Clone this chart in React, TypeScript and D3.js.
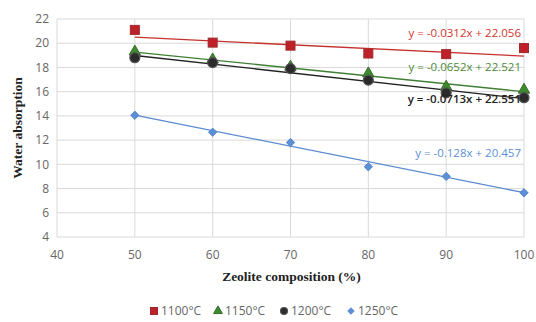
import React from "react";
import * as d3 from "d3";

const compositions = [50, 60, 70, 80, 90, 100];
const series1100 = [21.1, 20.05, 19.8, 19.15, 19.1, 19.6];
const series1150 = [19.3, 18.65, 18.05, 17.5, 16.4, 16.15];
const series1200 = [18.8, 18.4, 17.9, 16.95, 15.9, 15.5];
const series1250 = [14.05, 12.65, 11.8, 9.8, 9.0, 7.65];

const seriesNames = ["1100°C", "1150°C", "1200°C", "1250°C"];
const slopes = [-0.0312, -0.0652, -0.0713, -0.128];
const intercepts = [22.056, 22.521, 22.551, 20.457];
const equationLabels = [
  "y = -0.0312x + 22.056",
  "y = -0.0652x + 22.521",
  "y = -0.0713x + 22.551",
  "y = -0.128x + 20.457",
];

const xTicks = [40, 50, 60, 70, 80, 90, 100];
const yTicks = [4, 6, 8, 10, 12, 14, 16, 18, 20, 22];

const W = 536;
const H = 322;
const margin = { left: 57, right: 12, top: 19, bottom: 85 };

const fills = ["#c0202a", "#3c8a2e", "#2b2b2b", "#5b8fd6"];
const strokes = ["#9e2a2a", "#3a6e2c", "#555555", "#4a7cc4"];
const lineColors = ["#c4312d", "#3f7e33", "#222222", "#5a8bd2"];
const labelColors = ["#d0342c", "#4a8a38", "#222222", "#5b8fd6"];
const labelY = [37, 71, 103, 157];

function Marker({ kind, x, y, s }: { kind: number; x: number; y: number; s: number }) {
  const f = fills[kind];
  const st = strokes[kind];
  if (kind === 0) {
    return <rect x={x - s / 2} y={y - s / 2} width={s} height={s} fill={f} stroke={st} strokeWidth={1} />;
  }
  if (kind === 1) {
    const p = d3.symbol(d3.symbolTriangle, s * s * 0.7)();
    return <path d={p || ""} transform={`translate(${x},${y})`} fill={f} stroke={st} strokeWidth={1} />;
  }
  if (kind === 2) {
    return <circle cx={x} cy={y} r={s / 2} fill={f} stroke={st} strokeWidth={1.2} />;
  }
  const p = d3.symbol(d3.symbolDiamond2 ?? d3.symbolDiamond, s * s * 0.55)();
  return <path d={p || ""} transform={`translate(${x},${y})`} fill={f} stroke={st} strokeWidth={0.8} />;
}

export default function App() {
  const x = d3.scaleLinear().domain([40, 100]).range([margin.left, W - margin.right]);
  const y = d3.scaleLinear().domain([4, 22]).range([H - margin.bottom, margin.top]);
  const all = [series1100, series1150, series1200, series1250];
  const tickFont = "'Open Sans', 'Liberation Sans', sans-serif";
  const titleFont = "'Liberation Serif', 'DejaVu Serif', serif";

  const legendX = [154, 218, 284, 351];
  const legendY = 311;

  return (
    <svg width={W} height={H} style={{ position: "absolute", left: 0, top: 0, background: "#fff" }}>
      {/* grid */}
      {yTicks.map((t) => (
        <line key={"gy" + t} x1={x(40)} x2={x(100)} y1={y(t)} y2={y(t)} stroke="#d9d9d9" strokeWidth={1} />
      ))}
      {xTicks.map((t) => (
        <line key={"gx" + t} x1={x(t)} x2={x(t)} y1={y(4)} y2={y(22)} stroke="#d9d9d9" strokeWidth={1} />
      ))}
      {/* tick labels */}
      {yTicks.map((t) => (
        <text key={"ty" + t} x={x(40) - 8} y={y(t)} dy="0.35em" textAnchor="end" fontFamily={tickFont} fontSize={12} fill="#666">
          {t}
        </text>
      ))}
      {xTicks.map((t) => (
        <text key={"tx" + t} x={x(t)} y={y(4) + 22} textAnchor="middle" fontFamily={tickFont} fontSize={12} fill="#666">
          {t}
        </text>
      ))}
      {/* trendlines */}
      {slopes.map((m, i) => (
        <line
          key={"tl" + i}
          x1={x(50)}
          x2={x(100)}
          y1={y(m * 50 + intercepts[i])}
          y2={y(m * 100 + intercepts[i])}
          stroke={lineColors[i]}
          strokeWidth={1.3}
        />
      ))}
      {/* markers */}
      {all.map((vals, i) =>
        vals.map((v, j) => <Marker key={`m${i}-${j}`} kind={i} x={x(compositions[j])} y={y(v)} s={i === 2 ? 10 : 9} />)
      )}
      {/* equation labels */}
      {equationLabels.map((s, i) => (
        <text key={"eq" + i} x={521} y={labelY[i]} textAnchor="end" fontFamily={tickFont} fontSize={11.5} fill={labelColors[i]} fontWeight={i === 2 ? 600 : 400}>
          {s}
        </text>
      ))}
      {/* axis titles */}
      <text x={(x(40) + x(100)) / 2 + 1} y={281} textAnchor="middle" fontFamily={titleFont} fontWeight="bold" fontSize={13.5} fill="#222">
        Zeolite composition (%)
      </text>
      <text
        transform={`translate(22,${(y(4) + y(22)) / 2}) rotate(-90)`}
        textAnchor="middle"
        fontFamily={titleFont}
        fontWeight="bold"
        fontSize={13.5}
        fill="#222"
      >
        Water absorption
      </text>
      {/* legend */}
      {seriesNames.map((n, i) => (
        <g key={"lg" + i}>
          <Marker kind={i} x={legendX[i]} y={legendY} s={7} />
          <text x={legendX[i] + 7} y={legendY} dy="0.35em" fontFamily={tickFont} fontSize={12} fill="#666">
            {n}
          </text>
        </g>
      ))}
    </svg>
  );
}
